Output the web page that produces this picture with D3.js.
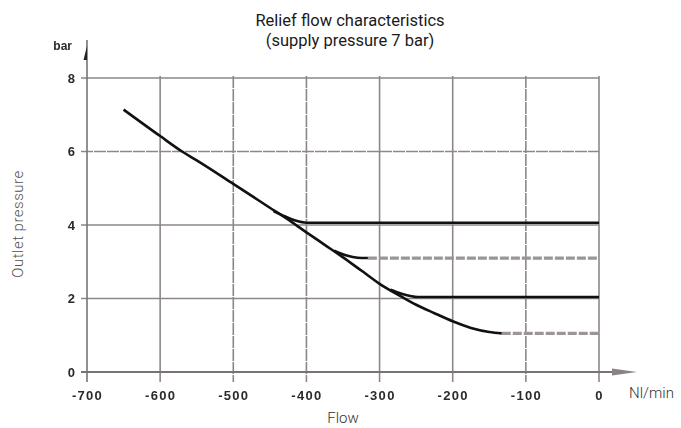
<!DOCTYPE html>
<html><head><meta charset="utf-8">
<script src="https://cdn.jsdelivr.net/npm/d3@7"></script>
<style>
body{margin:0;background:#fff;}
svg{display:block;}
</style></head>
<body><svg id="c" width="681" height="428"></svg>
<script>
// ---- data ----
const xTicks = [-700, -600, -500, -400, -300, -200, -100, 0];
const yTicks = [0, 2, 4, 6, 8];
const dashedX = [-500, -400, -100];
const dashedY = [6];
// main relief curve (flow, pressure)
const mainFlow = [-650, -600, -570, -550, -500, -450, -420, -400, -375, -350, -325, -300, -270, -250, -225, -200, -175, -150, -133];
const mainPres = [7.14, 6.42, 6.0, 5.76, 5.12, 4.47, 4.08, 3.8, 3.46, 3.12, 2.76, 2.4, 2.05, 1.83, 1.6, 1.38, 1.2, 1.09, 1.05];
// set-point branches
const b4Flow = [-445, -430, -415, -400, 0];
const b4Pres = [4.38, 4.24, 4.12, 4.06, 4.06];
const b3Flow = [-362, -345, -330, -316];
const b3Pres = [3.3, 3.17, 3.11, 3.1];
const b3FlatFlow = [-316, 0];
const b3FlatPres = [3.1, 3.1];
const b2Flow = [-285, -270, -258, -248, 0];
const b2Pres = [2.24, 2.13, 2.07, 2.04, 2.04];
const b1FlatFlow = [-133, 0];
const b1FlatPres = [1.05, 1.05];

const svg = d3.select('#c');
const x = d3.scaleLinear().domain([-700, 0]).range([87, 599]);
const y = d3.scaleLinear().domain([0, 8]).range([372, 78]);
const gridCol = '#8e8787';

// vertical gridlines (extend below axis as ticks)
svg.append('g').selectAll('line').data(xTicks.filter(d => d !== -700)).join('line')
  .attr('x1', d => x(d)).attr('x2', d => x(d))
  .attr('y1', y(8) - 2).attr('y2', y(0) + 10)
  .attr('stroke', gridCol).attr('stroke-width', 1.6)
  .attr('stroke-dasharray', d => dashedX.includes(d) ? '12 1' : null);

// horizontal gridlines
svg.append('g').selectAll('line').data(yTicks.filter(d => d !== 0)).join('line')
  .attr('x1', x(-700) - 6).attr('x2', x(0))
  .attr('y1', d => y(d)).attr('y2', d => y(d))
  .attr('stroke', gridCol).attr('stroke-width', 1.6)
  .attr('stroke-dasharray', d => dashedY.includes(d) ? '12 1' : null);

// x axis line with arrow
svg.append('line').attr('x1', x(-700) - 6).attr('x2', 622).attr('y1', y(0)).attr('y2', y(0))
  .attr('stroke', '#7a7373').attr('stroke-width', 2);
svg.append('path').attr('d', `M612,${y(0)-3.5} L637,${y(0)} L612,${y(0)+3.5} Z`)
  .attr('fill', '#8a8383');
// y axis line with arrow
svg.append('line').attr('x1', x(-700)).attr('x2', x(-700)).attr('y1', y(0) + 10).attr('y2', 40)
  .attr('stroke', '#7a7373').attr('stroke-width', 1.6);
svg.append('path').attr('d', `M${x(-700)},46 L${x(-700)-3.5},60 L${x(-700)},60 Z`).attr('fill', '#222');

// axes labels via d3 axes
const defs = svg.append('defs');
defs.append('filter').attr('id', 'soft').append('feGaussianBlur').attr('stdDeviation', 0.45);
const tickFont = g => g.selectAll('text')
  .attr('font-family', 'Liberation Sans, Arial, sans-serif').attr('font-weight', 'bold')
  .attr('font-size', 13).attr('letter-spacing', '1.3px').attr('fill', '#2a2a2a')
  .attr('filter', 'url(#soft)');

const xAxis = svg.append('g').attr('transform', `translate(0,${y(0)})`)
  .call(d3.axisBottom(x).tickValues(xTicks).tickSize(0).tickPadding(19).tickFormat(d3.format('d')));
xAxis.select('.domain').remove();
xAxis.call(tickFont);
xAxis.selectAll('text').text(d => d === 0 ? '0' : '-' + Math.abs(d));

const yAxis = svg.append('g').attr('transform', `translate(${x(-700) - 6},0)`)
  .call(d3.axisLeft(y).tickValues(yTicks).tickSize(0).tickPadding(6));
yAxis.select('.domain').remove();
yAxis.call(tickFont);
yAxis.selectAll('text').attr('letter-spacing', null);

svg.append('text').attr('x', 72).attr('y', 50).attr('text-anchor', 'end')
  .attr('font-family', 'Liberation Sans, Arial, sans-serif').attr('font-weight', 'bold')
  .attr('font-size', 12).attr('fill', '#2a2a2a').attr('filter', 'url(#soft)').text('bar');

// curves
const line = d3.line().x(d => x(d[0])).y(d => y(d[1])).curve(d3.curveMonotoneX);
const zip = (a, b) => a.map((v, i) => [v, b[i]]);

svg.append('path').datum(zip(b3FlatFlow, b3FlatPres)).attr('d', line)
  .attr('fill', 'none').attr('stroke', '#9c9595').attr('stroke-width', 3.2).attr('stroke-dasharray', '9 2');
svg.append('path').datum(zip(b1FlatFlow, b1FlatPres)).attr('d', line)
  .attr('fill', 'none').attr('stroke', '#9c9595').attr('stroke-width', 3.2).attr('stroke-dasharray', '9 2');

[[b4Flow, b4Pres], [b3Flow, b3Pres], [b2Flow, b2Pres]].forEach(([f, p]) => {
  svg.append('path').datum(zip(f, p)).attr('d', line)
    .attr('fill', 'none').attr('stroke', '#111').attr('stroke-width', 2.6);
});
svg.append('path').datum(zip(mainFlow, mainPres)).attr('d', line)
  .attr('fill', 'none').attr('stroke', '#111').attr('stroke-width', 2.6);

// titles
const lab = (t, xx, yy, size, w, col, anchor) => svg.append('text').attr('x', xx).attr('y', yy)
  .attr('text-anchor', anchor || 'middle').attr('font-family', 'Roboto, sans-serif')
  .attr('font-size', size).attr('font-weight', w).attr('fill', col).text(t);
lab('Relief flow characteristics', 350, 26, 16.5, 400, '#1a1a1a');
lab('(supply pressure 7 bar)', 350, 46, 16.5, 400, '#1a1a1a');
lab('Flow', 343, 423, 15, 300, '#333');
lab('Nl/min', 629, 398, 15, 300, '#333', 'start');
svg.append('text').attr('transform', 'translate(23,224) rotate(-90)').attr('text-anchor', 'middle')
  .attr('font-family', 'Roboto, sans-serif').attr('font-size', 15).attr('font-weight', 300)
  .attr('letter-spacing', '0.5px').attr('fill', '#505050').text('Outlet pressure');
</script></body></html>
